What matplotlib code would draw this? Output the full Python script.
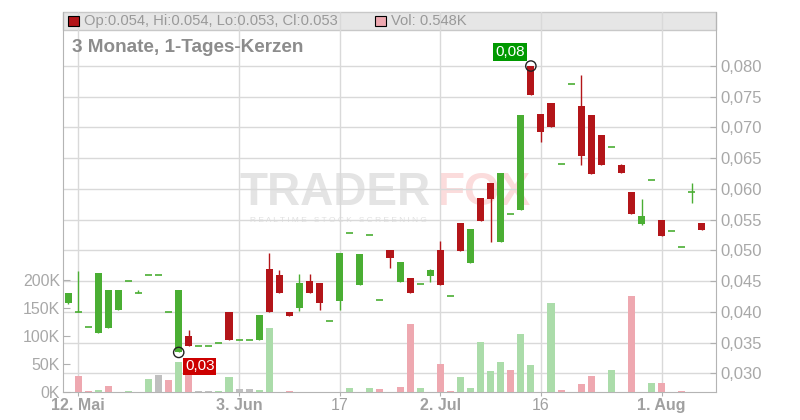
import matplotlib.pyplot as plt
from matplotlib.patches import Rectangle
import numpy as np

plt.rcParams["font.family"] = ["Liberation Sans", "DejaVu Sans"]

# daily candles (trading-day index), prices in EUR, volume in thousand
opens = [0.0415, 0.0400, 0.0375, 0.0365, 0.0374, 0.0403, 0.0450, 0.0430, 0.0460, 0.0460,
         0.0400, 0.0334, 0.0361, 0.0345, 0.0345, 0.0350, 0.0400, 0.0355, 0.0355, 0.0355,
         0.0470, 0.0460, 0.0400, 0.0407, 0.0450, 0.0447, 0.0385, 0.0417, 0.0529, 0.0444,
         0.0525, 0.0420, 0.0501, 0.0449, 0.0455, 0.0445, 0.0458, 0.0501, 0.0425, 0.0545,
         0.0480, 0.0585, 0.0610, 0.0514, 0.0560, 0.0565, 0.0800, 0.0722, 0.0740, 0.0640,
         0.0770, 0.0735, 0.0720, 0.0688, 0.0669, 0.0639, 0.0595, 0.0543, 0.0614, 0.0549,
         0.0531, 0.0505, 0.0595, 0.0544]
highs = [0.0431, 0.0466, 0.0375, 0.0464, 0.0436, 0.0436, 0.0450, 0.0436, 0.0460, 0.0460,
         0.0400, 0.0436, 0.0370, 0.0345, 0.0345, 0.0350, 0.0400, 0.0355, 0.0355, 0.0395,
         0.0496, 0.0468, 0.0400, 0.0462, 0.0462, 0.0447, 0.0385, 0.0496, 0.0529, 0.0494,
         0.0525, 0.0420, 0.0501, 0.0481, 0.0455, 0.0445, 0.0470, 0.0515, 0.0425, 0.0545,
         0.0535, 0.0585, 0.0610, 0.0626, 0.0560, 0.0720, 0.0800, 0.0722, 0.0740, 0.0640,
         0.0770, 0.0786, 0.0720, 0.0688, 0.0669, 0.0641, 0.0595, 0.0584, 0.0614, 0.0549,
         0.0531, 0.0505, 0.0610, 0.0544]
lows = [0.0412, 0.0400, 0.0375, 0.0365, 0.0374, 0.0403, 0.0450, 0.0430, 0.0460, 0.0460,
        0.0400, 0.0334, 0.0345, 0.0345, 0.0345, 0.0350, 0.0355, 0.0355, 0.0355, 0.0355,
        0.0399, 0.0431, 0.0394, 0.0402, 0.0430, 0.0403, 0.0385, 0.0403, 0.0529, 0.0444,
        0.0525, 0.0420, 0.0472, 0.0449, 0.0430, 0.0445, 0.0449, 0.0444, 0.0425, 0.0499,
        0.0480, 0.0548, 0.0514, 0.0514, 0.0560, 0.0565, 0.0753, 0.0677, 0.0700, 0.0640,
        0.0770, 0.0639, 0.0625, 0.0639, 0.0669, 0.0626, 0.0560, 0.0542, 0.0614, 0.0524,
        0.0531, 0.0505, 0.0577, 0.0533]
closes = [0.0431, 0.0400, 0.0375, 0.0464, 0.0436, 0.0436, 0.0450, 0.0430, 0.0460, 0.0460,
          0.0400, 0.0436, 0.0345, 0.0345, 0.0345, 0.0350, 0.0355, 0.0355, 0.0355, 0.0395,
          0.0399, 0.0431, 0.0394, 0.0447, 0.0430, 0.0415, 0.0385, 0.0496, 0.0529, 0.0494,
          0.0525, 0.0420, 0.0487, 0.0481, 0.0430, 0.0445, 0.0468, 0.0444, 0.0425, 0.0499,
          0.0535, 0.0548, 0.0584, 0.0626, 0.0560, 0.0720, 0.0753, 0.0692, 0.0700, 0.0640,
          0.0770, 0.0654, 0.0625, 0.0639, 0.0669, 0.0626, 0.0560, 0.0556, 0.0614, 0.0524,
          0.0531, 0.0505, 0.0595, 0.0533]
volumes = [0, 28, 2, 4, 10, 0, 2, 0, 24, 31,
           21, 53, 35, 2, 2, 2, 27, 6, 6, 4,
           115, 0, 1.5, 0, 0, 0, 0, 0, 7.7, 0,
           7.7, 6, 0, 9.5, 122, 7.7, 0, 50, 1.7, 27,
           8, 90, 37, 53, 40, 103, 47.5, 0, 160, 3,
           0, 13.6, 28, 0, 40, 0, 172, 0, 16.6, 16.6,
           0, 2, 0, 0.548]

date_ticks = [1, 17, 27, 37, 47, 59]
date_labels = ["12. Mai", "3. Jun", "17", "2. Jul", "16", "1. Aug"]
date_bold = [True, True, False, True, False, True]
price_ticks = [0.030, 0.035, 0.040, 0.045, 0.050, 0.055, 0.060, 0.065, 0.070, 0.075, 0.080]
vol_ticks = [0, 50, 100, 150, 200]

GREEN = "#4aae33"
RED = "#b31519"
VOL_UP = "#abdcaa"
VOL_DOWN = "#eea8b0"
VOL_FLAT = "#bfbfbf"
LABEL = "#a8a8a8"

o = np.array(opens)
h = np.array(highs)
l = np.array(lows)
c = np.array(closes)
v = np.array(volumes)
x = np.arange(len(c))

fig = plt.figure(figsize=(8, 4.2), dpi=100)
rect = [63 / 800, 28 / 420, 653 / 800, 380 / 420]
ax = fig.add_axes(rect)                      # grid + price scale
axv = fig.add_axes(rect, sharex=ax)          # volume
axc = fig.add_axes(rect, sharex=ax, sharey=ax)  # candles on top
for a in (axv, axc):
    a.patch.set_visible(False)
    for s in a.spines.values():
        s.set_visible(False)
axc.tick_params(left=False, right=False, bottom=False, labelleft=False,
                labelbottom=False)

# price axis / grid
ax.set_xlim(-0.5, 64.4)
ax.set_ylim(0.02696, 0.08879)
ax.yaxis.tick_right()
ax.set_yticks(price_ticks, [f"{p:.3f}".replace(".", ",") for p in price_ticks])
ax.set_xticks(date_ticks, date_labels)
for t, b in zip(ax.get_xticklabels(), date_bold):
    t.set_fontweight("bold" if b else "normal")
ax.grid(True, color="#d9d9d9", lw=1)
ax.set_axisbelow(True)
ax.tick_params(axis="y", direction="in", length=4, color="#b0b0b0",
               labelcolor=LABEL, labelsize=12, pad=3)
ax.tick_params(axis="x", direction="out", length=3, color="#b0b0b0",
               labelcolor="#a0a0a0", labelsize=11.5, pad=1.5)
for side in ("left", "right", "bottom"):
    ax.spines[side].set_color("#b4b4b4")
ax.spines["top"].set_visible(False)

# volume
vol_col = [VOL_FLAT] + [VOL_UP if c[i] > c[i - 1] else VOL_DOWN if c[i] < c[i - 1]
                        else VOL_FLAT for i in range(1, len(c))]
axv.bar(x, v, width=0.7, color=vol_col, zorder=2)
axv.set_ylim(0, 680)
axv.set_yticks(vol_ticks, [f"{t}K" for t in vol_ticks])
axv.tick_params(axis="y", direction="in", length=5, color="#b0b0b0",
                labelcolor=LABEL, labelsize=11.5, pad=2)
axv.tick_params(axis="x", bottom=False, labelbottom=False)

# candles
up = c >= o
col = np.where(up, GREEN, RED)
axc.vlines(x, l, h, colors=col, lw=1.0, zorder=2)
body = o != c
axc.bar(x[body], (c - o)[body], bottom=o[body], width=0.7, color=col[body], zorder=3)
axc.hlines(c[~body], x[~body] - 0.35, x[~body] + 0.35, colors=GREEN, lw=1.2, zorder=3)

# low / high markers
i_lo = int(np.argmin(l))
i_hi = int(np.argmax(h))
axc.scatter([i_lo, i_hi], [l[i_lo], h[i_hi]], s=55, facecolors="none",
            edgecolors="#222222", lw=1, zorder=5)
axc.annotate(f"{l[i_lo]:.2f}".replace(".", ","), xy=(i_lo, l[i_lo]),
             xytext=(21, -14), textcoords="offset pixels", ha="center", va="center",
             color="white", fontsize=11,
             bbox=dict(boxstyle="square,pad=0.12", fc="#cc0000", ec="none"), zorder=6)
axc.annotate(f"{h[i_hi]:.2f}".replace(".", ","), xy=(i_hi, h[i_hi]),
             xytext=(-21, 14), textcoords="offset pixels", ha="center", va="center",
             color="white", fontsize=11,
             bbox=dict(boxstyle="square,pad=0.12", fc="#009900", ec="none"), zorder=6)

# header band
band_h = 18 / 380
ax.add_patch(Rectangle((0, 1 - band_h), 1, band_h, transform=ax.transAxes,
                       fc="#e6e6e6", ec="#c8c8c8", lw=1, zorder=0.4, clip_on=False))
fig.add_artist(Rectangle((68 / 800, 1 - 26 / 420), 11 / 800, 10 / 420,
                         transform=fig.transFigure, fc=RED, ec="black", lw=0.8))
fig.text(84 / 800, 1 - 21 / 420,
         f"Op:{o[-1]:.3f}, Hi:{h[-1]:.3f}, Lo:{l[-1]:.3f}, Cl:{c[-1]:.3f}",
         fontsize=10.6, color="#999999", va="center")
fig.add_artist(Rectangle((375 / 800, 1 - 26 / 420), 11 / 800, 10 / 420,
                         transform=fig.transFigure, fc=VOL_DOWN, ec="black", lw=0.8))
fig.text(391 / 800, 1 - 21 / 420, f"Vol: {v[-1]:.3f}K",
         fontsize=10.6, color="#999999", va="center")
fig.text(72 / 800, 1 - 47 / 420, "3 Monate, 1-Tages-Kerzen", fontsize=13.6,
         fontweight="bold", color="#8c8c8c", va="center")

# watermark
ax.text(240 / 800, 1 - 205 / 420, "TRADER", transform=fig.transFigure, fontsize=33,
        fontweight="bold", color="#e4e4e4", va="baseline", zorder=0.3)
ax.text(437 / 800, 1 - 205 / 420, "FOX", transform=fig.transFigure, fontsize=33,
        fontweight="bold", color="#fbdcdc", va="baseline", zorder=0.3)
ax.text(250 / 800, 1 - 221 / 420, "R E A L T I M E   S T O C K   S C R E E N I N G",
        transform=fig.transFigure, fontsize=6, color="#e0e0e0", va="center", zorder=0.3)

fig.savefig("out.png", dpi=100)
